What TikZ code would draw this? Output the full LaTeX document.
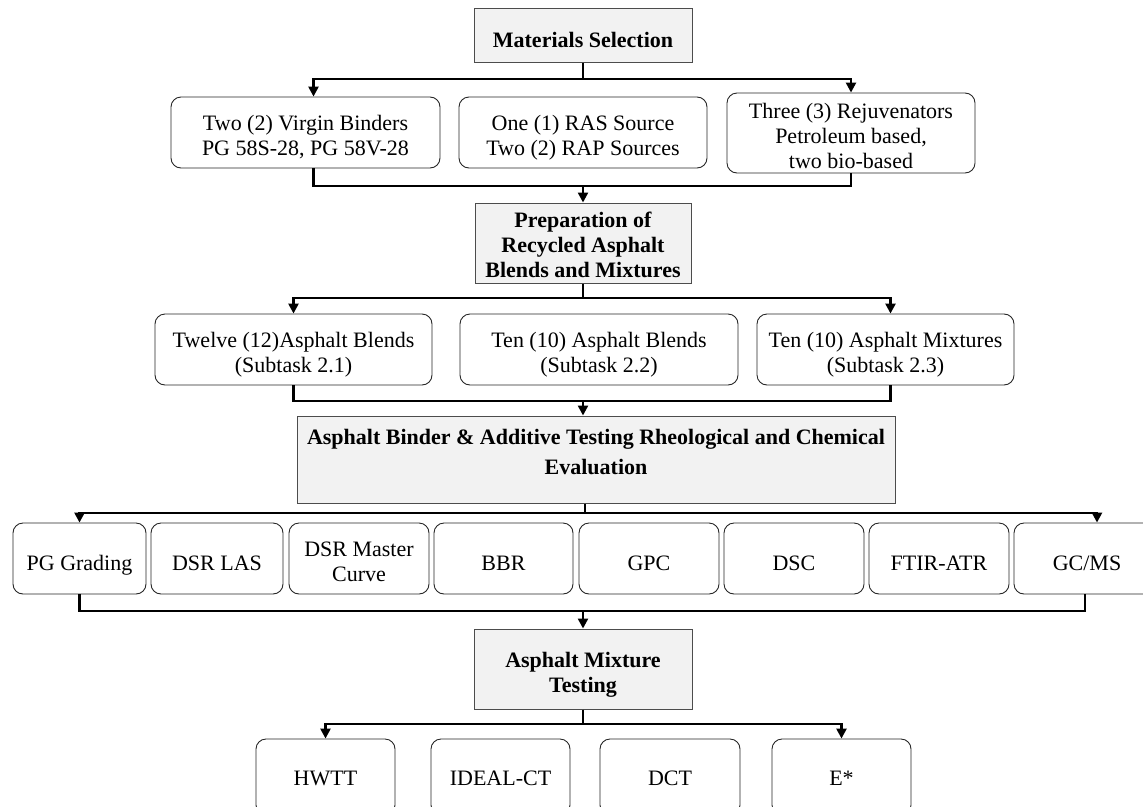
\documentclass[tikz,border=0pt]{standalone}
\usepackage{fontspec}
\setmainfont{Liberation Serif}
\usetikzlibrary{arrows.meta}
\newcommand\tsr[1]{\rule{0pt}{#1}}
\begin{document}
\begin{tikzpicture}[x=1pt,y=-1pt,
  every node/.style={font=\fontsize{22}{25}\selectfont},
  gbox/.style={draw=black!70, fill=black!5, line width=1pt, inner sep=0pt, align=center, font=\fontsize{22}{25}\selectfont\bfseries},
  rbox/.style={draw=black!85, rounded corners=10pt, line width=0.9pt, inner sep=0pt, align=center},
  oneline/.style={text height=30pt, text depth=6pt},
  lowline/.style={text height=22pt, text depth=6pt},
  bus/.style={line width=2.4pt},
  conn/.style={line width=2.4pt, -{Triangle[length=10pt,width=10pt]}},
]
\useasboundingbox (0,0) rectangle (1143,806);

% level 1
\node[gbox, oneline, minimum width=218pt, minimum height=54pt] (mat) at (583,35) {Materials Selection};
\node[rbox, minimum width=269pt, minimum height=71pt] (a) at (305.5,132.5) {\tsr{25pt}Two (2) Virgin Binders\\PG 58S-28, PG 58V-28};
\node[rbox, minimum width=248pt, minimum height=71pt] (b) at (583,132.5) {\tsr{26pt}One (1) RAS Source\\Two (2) RAP Sources};
\node[rbox, minimum width=248pt, minimum height=80pt] (c) at (851,133) {\tsr{22pt}Three (3) Rejuvenators\\Petroleum based,\\two bio-based};

% level 2
\node[gbox, minimum width=216pt, minimum height=80pt] (prep) at (583,243) {\tsr{20pt}Preparation of\\Recycled Asphalt\\Blends and Mixtures};
\node[rbox, minimum width=277pt, minimum height=71pt] (d) at (293.5,349.5) {\tsr{26pt}Twelve (12)Asphalt Blends\\(Subtask 2.1)};
\node[rbox, minimum width=278pt, minimum height=71pt] (e) at (599,349.5) {\tsr{26pt}Ten (10) Asphalt Blends\\(Subtask 2.2)};
\node[rbox, minimum width=257pt, minimum height=71pt] (f) at (885.5,349.5) {\tsr{25pt}Ten (10) Asphalt Mixtures\\(Subtask 2.3)};

% level 3
\node[gbox, minimum width=598pt, minimum height=87pt] (bind) at (596,459.5) {};
\node[align=center, inner sep=0pt, font=\fontsize{22}{25}\selectfont\bfseries] (bindtxt) at ([yshift=7.5pt]bind.center) {Asphalt Binder \& Additive Testing Rheological and Chemical\\[5pt]Evaluation};

\node[rbox, oneline, minimum width=133pt, minimum height=71pt] (pg) at (79.5,558.5) {PG Grading};
\node[rbox, oneline, minimum width=132pt, minimum height=71pt] (las) at (217,558.5) {DSR LAS};
\node[rbox, minimum width=140pt, minimum height=71pt] (dmc) at (359,558.5) {\tsr{21pt}DSR Master\\Curve};
\node[rbox, oneline, minimum width=139pt, minimum height=71pt] (bbr) at (503.5,558.5) {BBR};
\node[rbox, oneline, minimum width=140pt, minimum height=71pt] (gpc) at (649,558.5) {GPC};
\node[rbox, oneline, minimum width=140pt, minimum height=71pt] (dsc) at (794,558.5) {DSC};
\node[rbox, oneline, minimum width=140pt, minimum height=71pt] (ftir) at (939,558.5) {FTIR-ATR};
\node[rbox, oneline, minimum width=146pt, minimum height=71pt] (gcms) at (1087,558.5) {GC/MS};

% level 4
\node[gbox, minimum width=218pt, minimum height=80pt] (mix) at (583,669) {\tsr{26pt}Asphalt Mixture\\Testing};
\node[rbox, lowline, minimum width=139pt, minimum height=76pt] (hwtt) at (325.5,777) {HWTT};
\node[rbox, lowline, minimum width=139pt, minimum height=76pt] (ideal) at (500.5,777) {IDEAL-CT};
\node[rbox, lowline, minimum width=140pt, minimum height=76pt] (dct) at (670,777) {DCT};
\node[rbox, lowline, minimum width=139pt, minimum height=76pt] (estar) at (841.5,777) {E*};

% connectors
\coordinate (j1) at (583,79);
\draw[bus] (mat.south) -- (j1);
\draw[conn] (j1) -| ([xshift=8pt]a.north);
\draw[conn] (j1) -| (c.north);

\coordinate (j2) at (583,186);
\draw[bus] ([xshift=8pt]a.south) |- (j2) -| (c.south);
\draw[conn] (j2) -- (prep.north);

\coordinate (j3) at (583,298);
\draw[bus] (prep.south) -- (j3);
\draw[conn] (j3) -| (d.north);
\draw[conn] (j3) -| ([xshift=5pt]f.north);

\coordinate (j4) at (583,401);
\draw[bus] (d.south) |- (j4) -| ([xshift=5pt]f.south);
\draw[conn] (j4) -- (j4 |- bind.north);

\coordinate (j5) at (585,513);
\draw[bus] (j5 |- bind.south) -- (j5);
\draw[conn] (j5) -| (pg.north);
\draw[conn] (j5) -| ([xshift=10pt]gcms.north);

\coordinate (j6) at (583,611);
\draw[bus] (pg.south) |- (j6) -| ([xshift=-2pt]gcms.south);
\draw[conn] (j6) -- (mix.north);

\coordinate (j7) at (583,724);
\draw[bus] (mix.south) -- (j7);
\draw[conn] (j7) -| (hwtt.north);
\draw[conn] (j7) -| (estar.north);
\end{tikzpicture}
\end{document}
